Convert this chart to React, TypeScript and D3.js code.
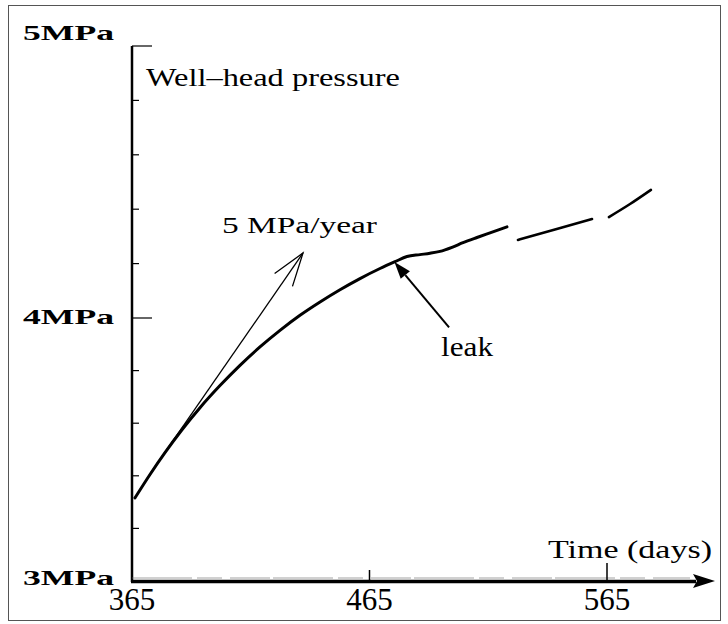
import React from "react";
import * as d3 from "d3";

// pressure readings (day, MPa)
const mainDays = [
  366.26, 372.58, 378.89, 386.05, 393.63, 402.05, 410.47, 418.89, 427.32, 435.74, 444.17, 452.58,
  461.0, 469.42, 475.74, 480.79, 486.26, 490.47, 494.68, 499.74, 504.37, 510.26, 515.74, 522.89,
];
const mainMPa = [
  3.316, 3.405, 3.488, 3.575, 3.659, 3.743, 3.82, 3.89, 3.953, 4.01, 4.059, 4.104,
  4.145, 4.182, 4.207, 4.226, 4.233, 4.238, 4.245, 4.26, 4.277, 4.296, 4.313, 4.335,
];
const seg2Days = [527.5, 543.1, 558.7];
const seg2MPa = [4.287, 4.325, 4.364];
const seg3Days = [565.8, 574.7, 583.5];
const seg3MPa = [4.371, 4.419, 4.471];

const xTicks = [365, 465, 565];
const yMajor = [3, 4, 5];
const yLabels = ["3MPa", "4MPa", "5MPa"];
const yMinor = [3.2, 3.4, 3.6, 3.8, 4.2, 4.4, 4.6, 4.8];

// tangent line annotation (start, tip) and leak arrow (tail, tip)
const tangentDays = [372.6, 437.0];
const tangentMPa = [3.407, 4.239];
const leakDays = [498.5, 475.5];
const leakMPa = [3.964, 4.206];

const width = 728;
const height = 624;
const serif = "'Liberation Serif', 'Times New Roman', serif";

const x = d3.scaleLinear().domain([365, 565]).range([132, 607]);
const y = d3.scaleLinear().domain([3, 4, 5]).range([581, 318, 46]);

const line = d3
  .line<[number, number]>()
  .x((d) => x(d[0]))
  .y((d) => y(d[1]))
  .curve(d3.curveMonotoneX);

const zip = (a: number[], b: number[]) => a.map((v, i) => [v, b[i]] as [number, number]);

export default function App() {
  const x0 = x(365);
  const axisY = y(3);

  // tangent arrow geometry
  const tx0 = x(tangentDays[0]);
  const ty0 = y(tangentMPa[0]);
  const tx1 = x(tangentDays[1]);
  const ty1 = y(tangentMPa[1]);
  const ang = Math.atan2(ty0 - ty1, tx0 - tx1);
  const wing = (a: number) => [tx1 + 35 * Math.cos(ang + a), ty1 + 35 * Math.sin(ang + a)];
  const w1 = wing(0.34);
  const w2 = wing(-0.3);

  // leak arrow geometry
  const lx0 = x(leakDays[0]);
  const ly0 = y(leakMPa[0]);
  const lx1 = x(leakDays[1]);
  const ly1 = y(leakMPa[1]);
  const la = Math.atan2(ly0 - ly1, lx0 - lx1);
  const hl = 17;
  const hw = 6;
  const bx = lx1 + hl * Math.cos(la);
  const by = ly1 + hl * Math.sin(la);
  const head = [
    [lx1, ly1],
    [bx + hw * Math.sin(la), by - hw * Math.cos(la)],
    [bx - hw * Math.sin(la), by + hw * Math.cos(la)],
  ];

  return (
    <svg
      width={width}
      height={height}
      style={{ position: "absolute", left: 0, top: 0, background: "#fff" }}
    >
      <rect x={8.5} y={5.5} width={712} height={615} fill="none" stroke="#555" strokeWidth={1} />

      {/* y axis */}
      <line x1={x0} x2={x0} y1={y(5)} y2={axisY + 1} stroke="#000" strokeWidth={2.5} />
      {yMinor.map((v) => (
        <line key={v} x1={x0} x2={x0 + 7} y1={y(v)} y2={y(v)} stroke="#000" strokeWidth={1.2} />
      ))}
      {[4, 5].map((v) => (
        <line key={v} x1={x0} x2={x0 + 20} y1={y(v)} y2={y(v)} stroke="#000" strokeWidth={1.2} />
      ))}
      {yMajor.map((v, i) => (
        <text
          key={v}
          x={23}
          y={v === 5 ? y(v) - 6 : y(v) + (v === 3 ? 4 : 6)}
          fontFamily={serif}
          fontWeight="bold"
          fontSize={22}
          textLength={91}
          lengthAdjust="spacingAndGlyphs"
        >
          {yLabels[i]}
        </text>
      ))}

      {/* x axis with arrow */}
      <line x1={x0 - 1} x2={696} y1={axisY + 0.5} y2={axisY + 0.5} stroke="#000" strokeWidth={3.5} />
      <line x1={x0} x2={690} y1={axisY - 3} y2={axisY - 3} stroke="#666" strokeWidth={0.6} strokeDasharray="60 5 25 8 40 3" />
      <path d={`M715,${axisY} L693,${axisY - 7} L697,${axisY} L693,${axisY + 7} Z`} fill="#000" />
      {xTicks.slice(1).map((t, i) => (
        <line key={t} x1={x(t)} x2={x(t)} y1={axisY} y2={axisY - (i === 0 ? 11 : 18)} stroke="#000" strokeWidth={1.5} />
      ))}
      {xTicks.map((t) => (
        <text key={t} x={x(t)} y={610} textAnchor="middle" fontFamily={serif} fontSize={31}>
          {t}
        </text>
      ))}

      {/* pressure curve */}
      {[zip(mainDays, mainMPa), zip(seg2Days, seg2MPa), zip(seg3Days, seg3MPa)].map((seg, i) => (
        <path
          key={i}
          d={line(seg) || ""}
          fill="none"
          stroke="#000"
          strokeWidth={i === 0 ? 3 : 2.6}
          strokeLinecap="round"
        />
      ))}

      {/* tangent */}
      <line x1={tx0} y1={ty0} x2={tx1} y2={ty1} stroke="#000" strokeWidth={1.3} />
      <polyline
        points={`${w1[0]},${w1[1]} ${tx1},${ty1} ${w2[0]},${w2[1]}`}
        fill="none"
        stroke="#000"
        strokeWidth={1.3}
      />

      {/* leak arrow */}
      <line x1={lx0} y1={ly0} x2={bx} y2={by} stroke="#000" strokeWidth={2} />
      <polygon points={head.map((p) => p.join(",")).join(" ")} fill="#000" />

      {/* annotations */}
      <text x={146} y={86} fontFamily={serif} fontSize={26} textLength={254} lengthAdjust="spacingAndGlyphs">
        Well–head pressure
      </text>
      <text x={222} y={233} fontFamily={serif} fontSize={24} textLength={155} lengthAdjust="spacingAndGlyphs">
        5 MPa/year
      </text>
      <text x={441} y={356} fontFamily={serif} fontSize={28} textLength={52} lengthAdjust="spacingAndGlyphs">
        leak
      </text>
      <text x={548} y={558} fontFamily={serif} fontSize={25} textLength={164} lengthAdjust="spacingAndGlyphs">
        Time (days)
      </text>
    </svg>
  );
}
